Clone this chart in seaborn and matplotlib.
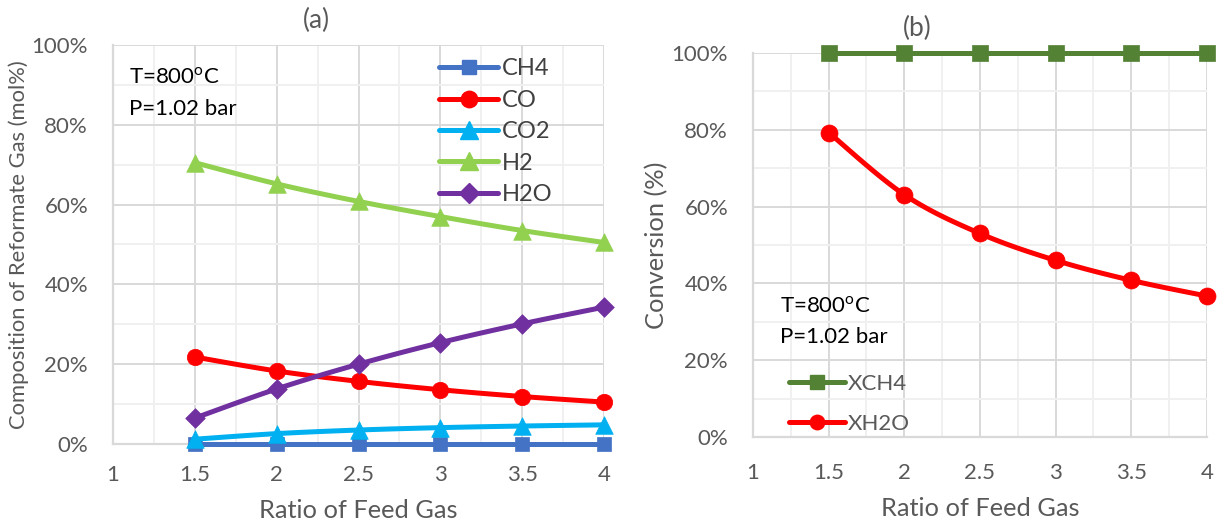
import numpy as np
import pandas as pd
import matplotlib
matplotlib.use("Agg")
import matplotlib.pyplot as plt
import seaborn as sns
from matplotlib.lines import Line2D
from matplotlib.ticker import MultipleLocator, FuncFormatter

# Feed-gas ratio (x) and reformate composition, mol%
ratio = [1.5, 2.0, 2.5, 3.0, 3.5, 4.0]
ch4 = [0.0, 0.0, 0.0, 0.0, 0.0, 0.0]
co = [21.8, 18.3, 15.7, 13.6, 11.9, 10.5]
co2 = [1.2, 2.6, 3.5, 4.1, 4.5, 4.8]
h2 = [70.5, 65.2, 60.8, 57.0, 53.5, 50.5]
h2o = [6.5, 13.8, 20.0, 25.4, 30.1, 34.3]

# Conversion, %
x_ch4 = [100.0, 100.0, 100.0, 100.0, 100.0, 100.0]
x_h2o = [79.3, 63.1, 53.0, 46.0, 40.8, 36.7]

sns.set_theme(style="white")
plt.rcParams["font.family"] = ["Lato", "DejaVu Sans"]
plt.rcParams["mathtext.fontset"] = "custom"
plt.rcParams["mathtext.rm"] = "Lato"

TICK_C = "#595959"
GRID_MAJ = "#d9d9d9"
GRID_MIN = "#f0f0f0"


def smooth_path(xs, ys, n=24):
    """Bezier path through the points (smoothed line, Catmull-Rom style)."""
    p = np.column_stack([xs, ys]).astype(float)
    out = []
    for i in range(len(p) - 1):
        p0 = p[i - 1] if i > 0 else p[i]
        p1, p2 = p[i], p[i + 1]
        p3 = p[i + 2] if i + 2 < len(p) else p[i + 1]
        c1 = p1 + (p2 - p0) / 6.0
        c2 = p2 - (p3 - p1) / 6.0
        t = np.linspace(0, 1, n)[:, None]
        seg = ((1 - t) ** 3) * p1 + 3 * ((1 - t) ** 2) * t * c1 + 3 * (1 - t) * t ** 2 * c2 + t ** 3 * p2
        out.append(seg if i == 0 else seg[1:])
    seg = np.vstack(out)
    return seg[:, 0], seg[:, 1]


def draw_series(ax, ys, color, marker, msize, z):
    sx, sy = smooth_path(ratio, ys)
    sns.lineplot(x=sx, y=sy, sort=False, estimator=None, color=color,
                 linewidth=3.6, ax=ax, zorder=z, clip_on=False)
    sns.scatterplot(x=ratio, y=ys, marker=marker, s=msize, color=color,
                    edgecolor=color, linewidth=0.5, ax=ax, zorder=z + 0.5,
                    clip_on=False, legend=False)


def style_axes(ax, ylabel, ylabel_size, xpad, ypad, title, title_x):
    ax.set_xlim(1, 4)
    ax.set_ylim(0, 100)
    ax.xaxis.set_major_locator(MultipleLocator(0.5))
    ax.xaxis.set_minor_locator(MultipleLocator(0.25))
    ax.yaxis.set_major_locator(MultipleLocator(20))
    ax.yaxis.set_minor_locator(MultipleLocator(10))
    ax.xaxis.set_major_formatter(FuncFormatter(lambda v, _: f"{v:g}"))
    ax.yaxis.set_major_formatter(FuncFormatter(lambda v, _: f"{v:.0f}%"))
    ax.grid(which="major", color=GRID_MAJ, linewidth=1.4)
    ax.grid(which="minor", color=GRID_MIN, linewidth=1.4)
    ax.set_axisbelow(True)
    for s in ("top", "right"):
        ax.spines[s].set_visible(False)
    for s in ("left", "bottom"):
        ax.spines[s].set_color(GRID_MAJ)
        ax.spines[s].set_linewidth(1.6)
    ax.tick_params(axis="both", which="both", length=0, labelsize=16,
                   labelcolor=TICK_C)
    ax.tick_params(axis="x", pad=xpad)
    ax.tick_params(axis="y", pad=ypad)
    ax.set_xlabel("Ratio of Feed Gas", fontsize=18.3, color=TICK_C, labelpad=10)
    ax.set_ylabel(ylabel, fontsize=ylabel_size, color=TICK_C, labelpad=2)
    ax.set_title(title, fontsize=19, color=TICK_C, x=title_x, pad=12)


fig = plt.figure(figsize=(12.23, 5.25), dpi=100)
ax1 = fig.add_axes([0.0924, 0.1543, 0.4015, 0.760])
ax2 = fig.add_axes([0.6157, 0.1676, 0.3712, 0.7314])

# (a) composition
series_a = [
    ("CH4", ch4, "#4472C4", "s", 95),
    ("CO", co, "#FF0000", "o", 140),
    ("CO2", co2, "#00B0F0", "^", 160),
    ("H2", h2, "#92D050", "^", 160),
    ("H2O", h2o, "#7030A0", "D", 100),
]
handles = []
for i, (name, vals, col, mk, ms) in enumerate(series_a):
    draw_series(ax1, vals, col, mk, ms, 3 + i)
    handles.append(Line2D([0], [0], color=col, linewidth=3.6, marker=mk,
                          markersize=np.sqrt(ms), label=name))
style_axes(ax1, "Composition of Reformate Gas (mol%)", 15.8, xpad=15, ypad=18,
           title="(a)", title_x=0.415)
leg1 = ax1.legend(handles=handles, loc="upper left",
                  bbox_to_anchor=(0.645, 0.99), frameon=False, fontsize=17,
                  handlelength=2.5, handletextpad=0.15, labelspacing=0.44,
                  borderaxespad=0)
for t in leg1.get_texts():
    t.set_color("#404040")
ax1.text(0.033, 0.918, r"T=800$^{\mathrm{o}}$C", transform=ax1.transAxes,
         fontsize=16, color="black", va="center", ha="left")
ax1.text(0.033, 0.84, "P=1.02 bar", transform=ax1.transAxes,
         fontsize=16, color="black", va="center", ha="left")

# (b) conversion
series_b = [
    ("XCH4", x_ch4, "#548235", "s", 130),
    ("XH2O", x_h2o, "#FF0000", "o", 150),
]
handles_b = []
for i, (name, vals, col, mk, ms) in enumerate(series_b):
    draw_series(ax2, vals, col, mk, ms, 3 + i)
    handles_b.append(Line2D([0], [0], color=col, linewidth=3.6, marker=mk,
                            markersize=np.sqrt(ms) * 0.85, label=name))
style_axes(ax2, "Conversion (%)", 18.3, xpad=19, ypad=18,
           title="(b)", title_x=0.361)
leg2 = ax2.legend(handles=handles_b, loc="upper left",
                  bbox_to_anchor=(0.06, 0.187), frameon=False, fontsize=16,
                  handlelength=2.5, handletextpad=0.15, labelspacing=0.9,
                  borderaxespad=0)
for t in leg2.get_texts():
    t.set_color(TICK_C)
ax2.text(0.06, 0.34, r"T=800$^{\mathrm{o}}$C", transform=ax2.transAxes,
         fontsize=16, color="black", va="center", ha="left")
ax2.text(0.06, 0.26, "P=1.02 bar", transform=ax2.transAxes,
         fontsize=16, color="black", va="center", ha="left")

fig.savefig("out.png", dpi=100, facecolor="white")
